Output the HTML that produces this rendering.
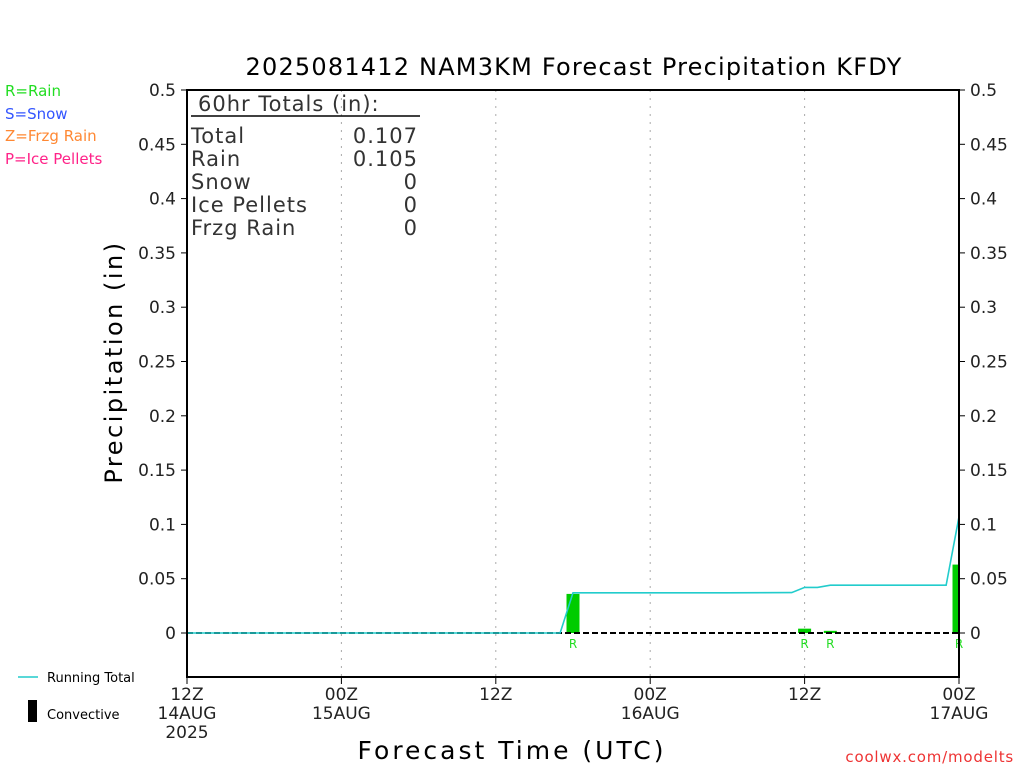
<!DOCTYPE html>
<html><head><meta charset="utf-8"><style>
html,body{margin:0;padding:0;background:#fff;}
svg{display:block;font-family:"DejaVu Sans","Liberation Sans",sans-serif;}
</style></head><body>
<svg id="chart" width="1024" height="768" viewBox="0 0 1024 768">
<text x="574" y="75" text-anchor="middle" font-size="24" letter-spacing="1.2" fill="#000">2025081412 NAM3KM Forecast Precipitation KFDY</text>
<g font-size="15">
<text x="5" y="96" fill="#22dd22">R=Rain</text>
<text x="5" y="119" fill="#3355ff">S=Snow</text>
<text x="5" y="141" fill="#ff8833">Z=Frzg Rain</text>
<text x="5" y="164" fill="#ff2288">P=Ice Pellets</text>
</g>
<g id="grid"></g>
<g id="bars"></g>
<g id="lines"></g>
<rect x="187" y="90" width="772" height="587" fill="none" stroke="#000" stroke-width="2"/>
<g id="yticks"></g>
<g id="xticks"></g>
<g font-size="21" fill="#333" letter-spacing="1">
<text x="198" y="111">60hr Totals (in):</text>
<line x1="191" y1="116" x2="420" y2="116" stroke="#000" stroke-width="1.5"/>
<text x="191" y="143">Total</text><text x="418" y="143" text-anchor="end">0.107</text>
<text x="191" y="166">Rain</text><text x="418" y="166" text-anchor="end">0.105</text>
<text x="191" y="189">Snow</text><text x="418" y="189" text-anchor="end">0</text>
<text x="191" y="212">Ice Pellets</text><text x="418" y="212" text-anchor="end">0</text>
<text x="191" y="235">Frzg Rain</text><text x="418" y="235" text-anchor="end">0</text>
</g>
<text transform="translate(122,362) rotate(-90)" text-anchor="middle" font-size="24" letter-spacing="2.5">Precipitation (in)</text>
<text x="512" y="759" text-anchor="middle" font-size="25" letter-spacing="3">Forecast Time (UTC)</text>
<text x="1014" y="762" text-anchor="end" font-size="15" letter-spacing="0.8" fill="#ee3333">coolwx.com/modelts</text>
<g font-size="13">
<line x1="18" y1="677" x2="38" y2="677" stroke="#22cccc" stroke-width="1.5"/>
<text x="47" y="682">Running Total</text>
<rect x="28" y="700" width="9" height="22" fill="#000"/>
<text x="47" y="719">Convective</text>
</g>
</svg>
<script>
const yTicks=[0,0.05,0.1,0.15,0.2,0.25,0.3,0.35,0.4,0.45,0.5];
const yTickLabels=["0","0.05","0.1","0.15","0.2","0.25","0.3","0.35","0.4","0.45","0.5"];
const xTickHours=[0,12,24,36,48,60];
const xTickLabels=[["12Z","14AUG","2025"],["00Z","15AUG"],["12Z"],["00Z","16AUG"],["12Z"],["00Z","17AUG"]];
const barHours=[30,48,50,60];
const barValues=[0.036,0.004,0.002,0.063];
const barTypes=["R","R","R","R"];
const totalHours=[0,29,30,42,47,48,49,50,59,60];
const totalValues=[0,0,0.037,0.037,0.0372,0.042,0.042,0.044,0.044,0.107];
const NS="http://www.w3.org/2000/svg";
const X0=187,X1=959,Y0=633,YPX=1086;
const xs=h=>X0+(X1-X0)*h/60;
const ys=v=>Y0-v*YPX;
function mk(t,a,p){const e=document.createElementNS(NS,t);for(const k in a)e.setAttribute(k,a[k]);p.appendChild(e);return e;}
const g=document.getElementById('grid'),yt=document.getElementById('yticks'),xt=document.getElementById('xticks'),b=document.getElementById('bars'),l=document.getElementById('lines');
xTickHours.forEach((h,i)=>{
 if(i>0&&i<xTickHours.length-1){const gl=mk('line',{x1:xs(h),x2:xs(h),y1:90,y2:677,stroke:'#aaa','stroke-dasharray':'2,6'},g);
 
 }
 mk('line',{x1:xs(h),x2:xs(h),y1:677,y2:684,stroke:'#000'},xt);
 xTickLabels[i].forEach((s,j)=>{const t=mk('text',{x:xs(h),y:700+j*19,'text-anchor':'middle','font-size':17,fill:'#222'},xt);t.textContent=s;
 
 });
});
yTicks.forEach((v,i)=>{
 mk('line',{x1:181,x2:187,y1:ys(v),y2:ys(v),stroke:'#000'},yt);
 mk('line',{x1:959,x2:965,y1:ys(v),y2:ys(v),stroke:'#000'},yt);
 const t1=mk('text',{x:176,y:ys(v)+6,'text-anchor':'end','font-size':17,fill:'#222'},yt);t1.textContent=yTickLabels[i];
 
 
 const t2=mk('text',{x:970,y:ys(v)+6,'font-size':17,fill:'#222'},yt);t2.textContent=yTickLabels[i];
 
 
});
const zl=mk('line',{x1:X0,x2:X1,y1:ys(0),y2:ys(0),stroke:'#000','stroke-width':2,'stroke-dasharray':'6,3'},l);


barHours.forEach((h,i)=>{
 const x=xs(h)-6.5;let w=13;if(x+w>X1)w=X1-x;
 const r=mk('rect',{x:x,y:ys(barValues[i]),width:w,height:ys(0)-ys(barValues[i]),fill:'#00cc00'},b);
 
 
 const t=mk('text',{x:xs(h),y:648,'text-anchor':'middle','font-size':12,fill:'#22dd22'},b);t.textContent=barTypes[i];
 
 
});
const pl=mk('polyline',{points:totalHours.map((h,i)=>xs(h)+','+ys(totalValues[i])).join(' '),fill:'none',stroke:'#22cccc','stroke-width':1.6},l);


</script>
</body></html>
